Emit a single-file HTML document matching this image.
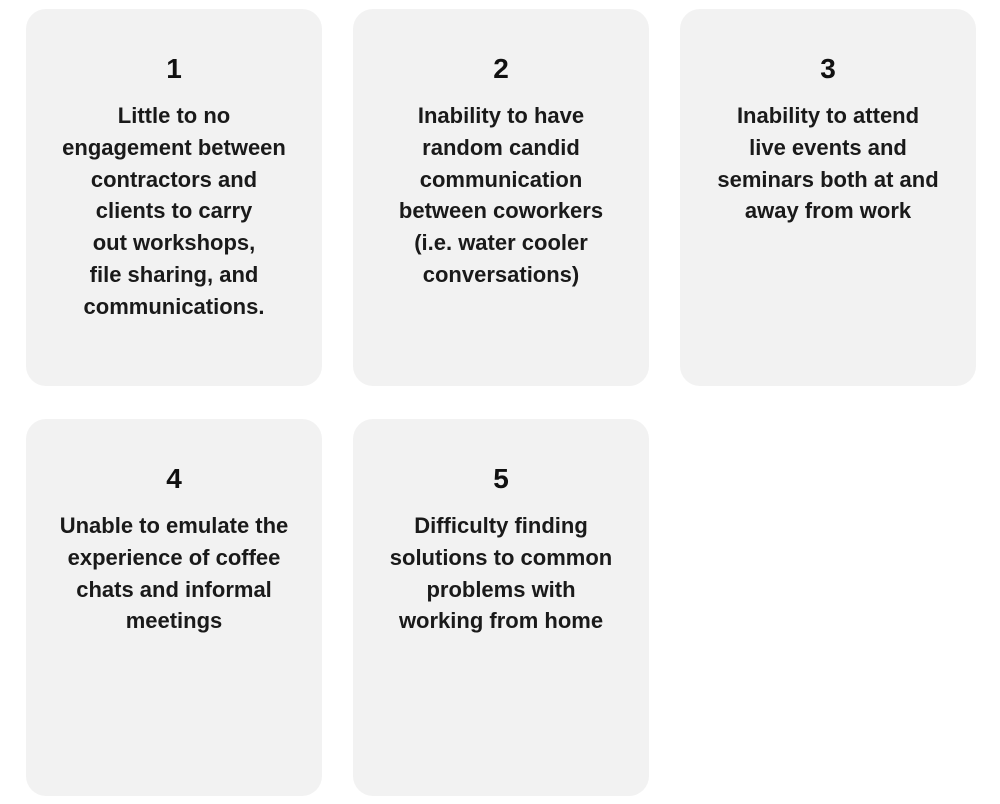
<!DOCTYPE html>
<html><head><meta charset="utf-8"><style>
body{margin:0;width:1000px;height:804px;background:#fff;position:relative;font-family:"Liberation Sans",sans-serif;}
.c{position:absolute;width:296px;height:377px;background:#f2f2f2;border-radius:20px;text-align:center;color:#111;}
.n{position:absolute;top:40px;left:0;right:0;font-size:28px;font-weight:bold;line-height:40px;}
.t{position:absolute;top:91px;left:-10px;right:-10px;font-size:22px;font-weight:bold;line-height:31.8px;color:#1a1a1a;}
</style></head><body>
<div class="c" style="left:26px;top:9px"><div class="n">1</div><div class="t">Little to no<br>engagement between<br>contractors and<br>clients to carry<br>out workshops,<br>file sharing, and<br>communications.</div></div>
<div class="c" style="left:353px;top:9px"><div class="n">2</div><div class="t">Inability to have<br>random candid<br>communication<br>between coworkers<br>(i.e. water cooler<br>conversations)</div></div>
<div class="c" style="left:680px;top:9px"><div class="n">3</div><div class="t">Inability to attend<br>live events and<br>seminars both at and<br>away from work</div></div>
<div class="c" style="left:26px;top:419px"><div class="n">4</div><div class="t">Unable to emulate the<br>experience of coffee<br>chats and informal<br>meetings</div></div>
<div class="c" style="left:353px;top:419px"><div class="n">5</div><div class="t">Difficulty finding<br>solutions to common<br>problems with<br>working from home</div></div>
</body></html>
